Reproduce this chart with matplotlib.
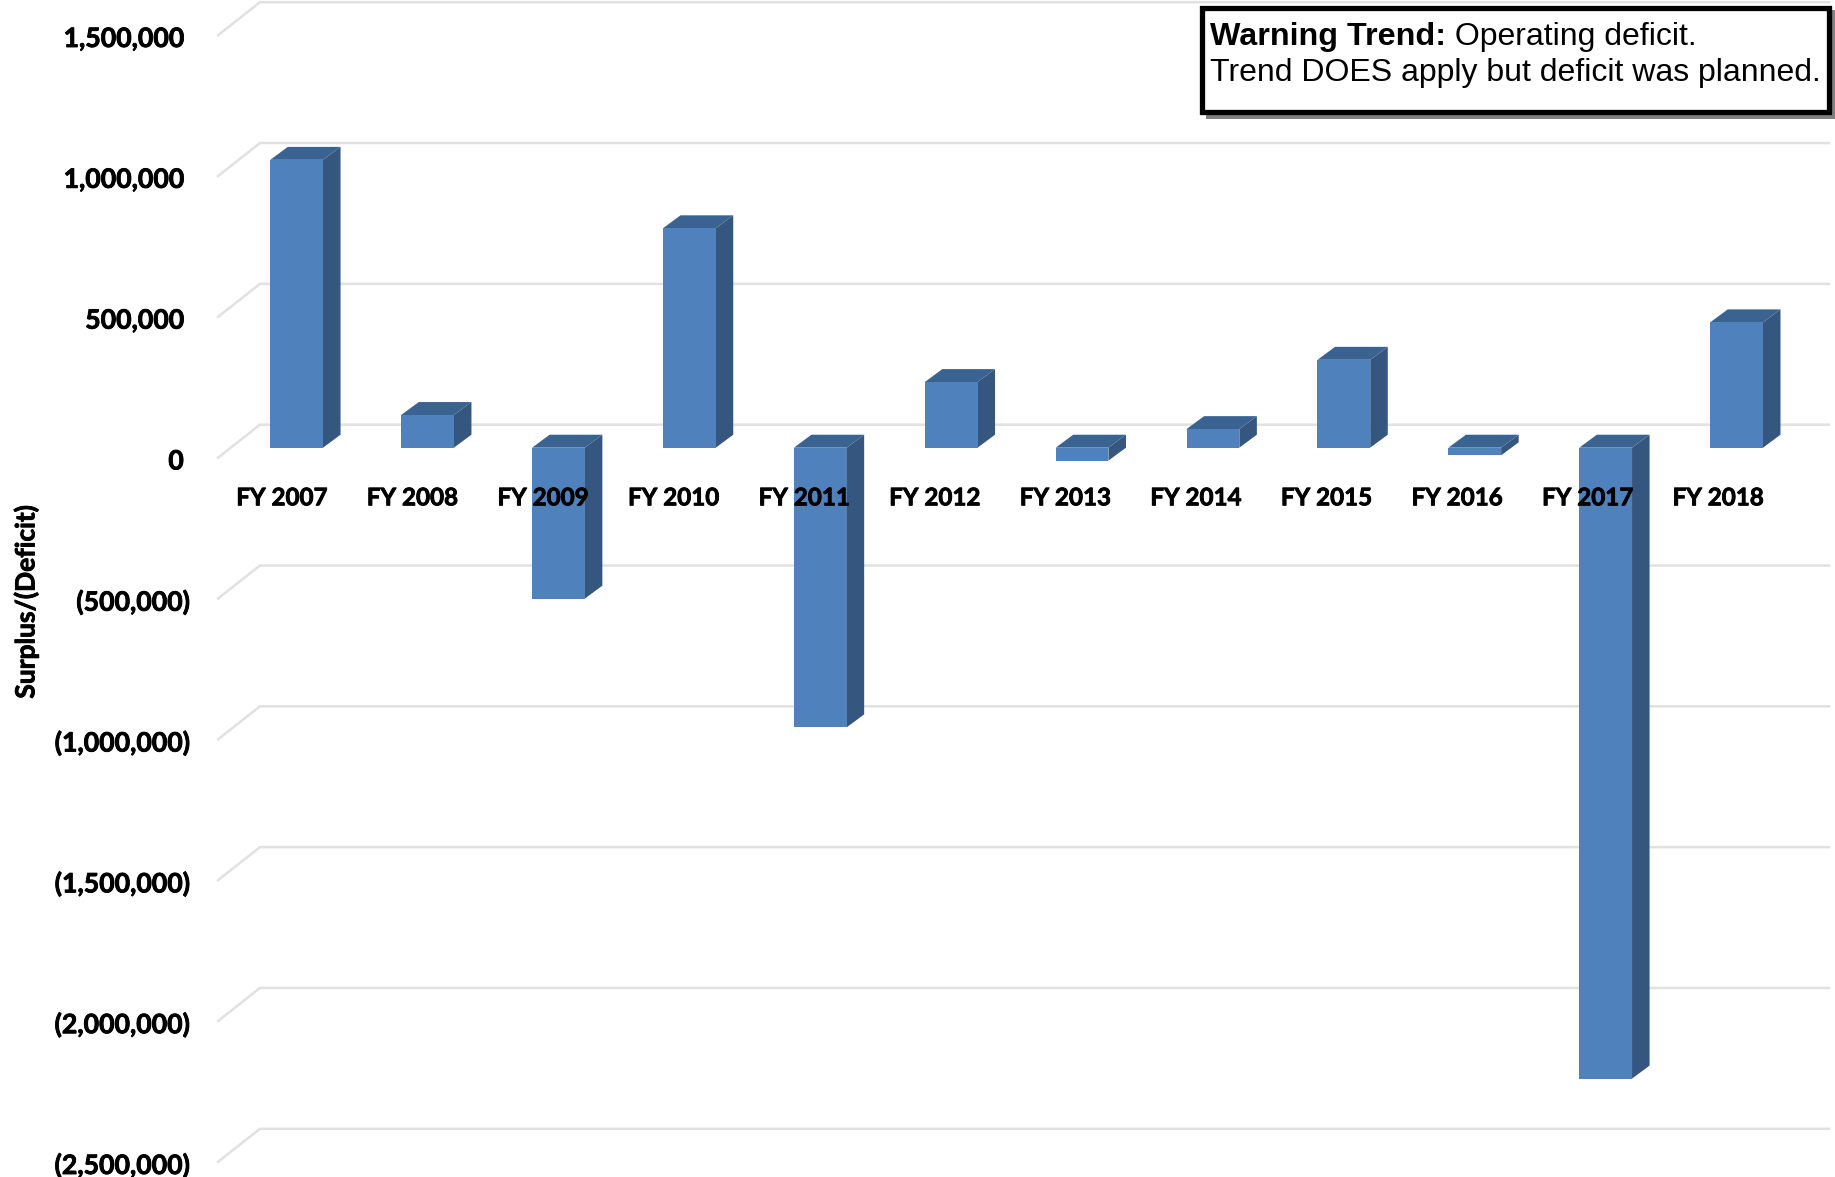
"""
Operating surplus/(deficit) by fiscal year, drawn as a pseudo 3D column chart.

Run:
    python3 plot.py
"""
import matplotlib
matplotlib.use("Agg")
import matplotlib.pyplot as plt
import matplotlib.patheffects as pe
from matplotlib.patches import Rectangle

CATEGORIES = ["FY 2007", "FY 2008", "FY 2009", "FY 2010", "FY 2011", "FY 2012",
              "FY 2013", "FY 2014", "FY 2015", "FY 2016", "FY 2017", "FY 2018"]
VALUES = [1022000, 116000, -536000, 779000, -993000, 233000,
          -46000, 66000, 312000, -27000, -2240000, 445000]
TICK_VALUES = [1500000, 1000000, 500000, 0, -500000, -1000000,
               -1500000, -2000000, -2500000]
TICK_LABELS = ["1,500,000", "1,000,000", "500,000", "0", "(500,000)", "(1,000,000)",
               "(1,500,000)", "(2,000,000)", "(2,500,000)"]
Y_LABEL = "Surplus/(Deficit)"

FACE = "#4f81bd"
SIDE = "#34567f"
TOP = "#3a6391"
GRID = "#e1e1e1"
LABEL_FONT = "Lato"
BOX_FONT = "Liberation Sans"
# Lato bold is a touch lighter than the original label face
HEAVY = [pe.withStroke(linewidth=0.6, foreground="black")]

# oblique projection, in data units (categories, dollars)
BAR_WIDTH = 0.403
DEPTH_X = 0.134
DEPTH_Y = 46000
WALL_X, WALL_Y = -0.28, 81700
FLOOR_X, FLOOR_Y = -0.60, -35500
GRID_END = 11.707
LABEL_X_SHIFT = -0.112
LABEL_X_STEP = 0.9975
LABEL_Y = -178000
TICK_Y_SHIFT = -49000

fig = plt.figure(figsize=(18.35, 11.77), dpi=100)
ax = fig.add_axes([0, 0, 1, 1])
ax.set_xlim(-2.266, 11.752)
ax.set_ylim(-2589500, 1589500)
ax.axis("off")

# gridlines: floor stub plus back wall
for v in TICK_VALUES:
    ax.plot([FLOOR_X, WALL_X, GRID_END],
            [v + FLOOR_Y, v + WALL_Y, v + WALL_Y],
            color=GRID, linewidth=1.8, zorder=1, solid_joinstyle="miter")

# columns
for i, v in enumerate(VALUES):
    left = i - BAR_WIDTH / 2
    right = i + BAR_WIDTH / 2
    hi, lo = max(v, 0), min(v, 0)
    ax.fill([right, right + DEPTH_X, right + DEPTH_X, right],
            [lo, lo + DEPTH_Y, hi + DEPTH_Y, hi], color=SIDE, lw=0, zorder=2)
    ax.fill([left, right, right + DEPTH_X, left + DEPTH_X],
            [hi, hi, hi + DEPTH_Y, hi + DEPTH_Y], color=TOP, lw=0, zorder=2)
ax.bar(range(len(VALUES)), VALUES, width=BAR_WIDTH, color=FACE, linewidth=0, zorder=3)

for i, name in enumerate(CATEGORIES):
    ax.text(i * LABEL_X_STEP + LABEL_X_SHIFT, LABEL_Y, name, ha="center", va="center",
            fontsize=17.4, fontweight="bold", family=LABEL_FONT, color="black", zorder=5,
            path_effects=HEAVY)

# parenthesised labels sit further right, as with an accounting number format
trans = ax.get_yaxis_transform()
for v, lab in zip(TICK_VALUES, TICK_LABELS):
    x = 0.1033 if v < 0 else 0.1001
    ax.text(x, v + TICK_Y_SHIFT, lab, transform=trans, ha="right", va="center",
            fontsize=19.2, fontweight="bold", family=LABEL_FONT, color="black", zorder=5,
            path_effects=HEAVY)

fig.text(26 / 1835, 1 - 602 / 1177, Y_LABEL, rotation=90, ha="center", va="center",
         fontsize=19, fontweight="bold", family=LABEL_FONT, path_effects=HEAVY)

# warning box
W, H = 1835, 1177
shadow = Rectangle((1206 / W, 1 - 118.5 / H), 630 / W, 108 / H, transform=fig.transFigure,
                   facecolor="#808080", edgecolor="none", zorder=6)
box = Rectangle((1201.5 / W, 1 - 112 / H), 627 / W, 103.5 / H, transform=fig.transFigure,
                facecolor="white", edgecolor="black", linewidth=3.8, zorder=7,
                joinstyle="miter")
fig.add_artist(shadow)
fig.add_artist(box)
t = fig.text(1210 / W, 1 - 36.5 / H, "Warning Trend:", ha="left", va="center",
             fontsize=23.2, fontweight="bold", family=BOX_FONT, zorder=8)
fig.add_artist(matplotlib.text.Annotation(
    " Operating deficit.", xy=(1, 0), xycoords=t, va="bottom", ha="left",
    fontsize=23, family=BOX_FONT, zorder=8))
fig.text(1210 / W, 1 - 73.5 / H, "Trend DOES apply but deficit was planned.", ha="left",
         va="center", fontsize=23, family=BOX_FONT, zorder=8)

fig.savefig("out.png", dpi=100)
plt.close(fig)
